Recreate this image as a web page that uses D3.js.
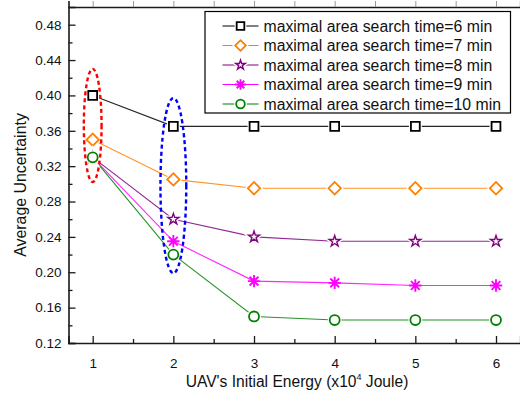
<!DOCTYPE html>
<html>
<head>
<meta charset="utf-8">
<script src="https://cdn.jsdelivr.net/npm/d3@7"></script>
<style>
  html, body { margin: 0; padding: 0; background: #fff; }
  svg { display: block; font-family: "Liberation Sans", Arial, sans-serif; }
</style>
</head>
<body>
<svg id="chart" width="520" height="398"></svg>
<script>
// Initial energy levels (x10^4 Joule)
const energy = [1, 2, 3, 4, 5, 6];

// Average uncertainty per maximal area search time
const time6  = [0.400, 0.365, 0.365, 0.365, 0.365, 0.365];
const time7  = [0.350, 0.305, 0.295, 0.295, 0.295, 0.295];
const time8  = [0.330, 0.260, 0.240, 0.235, 0.235, 0.235];
const time9  = [0.330, 0.235, 0.190, 0.188, 0.185, 0.185];
const time10 = [0.330, 0.220, 0.150, 0.146, 0.146, 0.146];

const seriesNames = [
  "maximal area search time=6 min",
  "maximal area search time=7 min",
  "maximal area search time=8 min",
  "maximal area search time=9 min",
  "maximal area search time=10 min"
];

const xTicks = [1, 2, 3, 4, 5, 6];
const yTicks = [0.12, 0.16, 0.20, 0.24, 0.28, 0.32, 0.36, 0.40, 0.44, 0.48];

// Highlight ellipses: [centre energy, centre uncertainty, half-width (energy), half-height (uncertainty)]
const redRing  = [1.0, 0.366, 0.11, 0.064];
const blueRing = [2.0, 0.298, 0.16, 0.099];

const styles = [
  { color: "#000000", marker: "square" },
  { color: "#ff8000", marker: "diamond" },
  { color: "#800080", marker: "star" },
  { color: "#ff00ff", marker: "asterisk" },
  { color: "#008000", marker: "circle" }
];
const allValues = [time6, time7, time8, time9, time10];
const series = allValues.map((vals, i) => ({
  name: seriesNames[i], ...styles[i],
  points: energy.map((e, j) => ({ x: e, y: vals[j] }))
}));

const svg = d3.select("#chart");
const x = d3.scaleLinear().domain([0.7, 6.3]).range([68.5, 520.2]);
const y = d3.scaleLinear().domain([0.12, 0.50]).range([343, 7]);

const axisColor = "#1a1a1a";

// Marker shapes
function markerPath(type, scale = 1) {
  switch (type) {
    case "square":  return d3.symbol(d3.symbolSquare, 78 * scale)();
    case "diamond": return d3.symbol(d3.symbolSquare, 76 * scale)();
    case "star":    return d3.symbol(d3.symbolStar, 38 * scale)();
    case "circle":  return d3.symbol(d3.symbolCircle, 78 * scale)();
    case "asterisk": {
      const r = 6.2 * Math.sqrt(scale), d = r * Math.SQRT1_2;
      return `M0,${-r}V${r}M${-r},0H${r}M${-d},${-d}L${d},${d}M${-d},${d}L${d},${-d}`;
    }
  }
}
function drawMarker(g, s, cx, cy, scale = 1) {
  const rot = s.marker === "diamond" ? 45 : 0;
  const p = markerPath(s.marker, scale);
  if (s.marker !== "asterisk") {
    g.append("path").attr("d", p)
      .attr("transform", `translate(${cx},${cy}) rotate(${rot})`)
      .attr("fill", "#fff").attr("stroke", "#fff").attr("stroke-width", 4);
  }
  const sw = s.marker === "asterisk" ? 1.9 : s.marker === "star" ? 1.4 : 1.8;
  g.append("path").attr("d", p)
    .attr("transform", `translate(${cx},${cy}) rotate(${rot})`)
    .attr("fill", s.marker === "asterisk" ? "none" : "#fff")
    .attr("stroke", s.color)
    .attr("stroke-width", sw)
    .attr("stroke-linejoin", "miter");
}

// Axes (ticks point inward)
const halfSteps = d3.range(2, 13).map(i => 0.5 * i);
const minorX = halfSteps.filter(v => !xTicks.includes(v));
const minorY = d3.range(7, 25).map(i => +(i * 0.02).toFixed(2)).filter(v => !yTicks.some(t => Math.abs(t - v) < 1e-9));

const xAxis = svg.append("g").attr("transform", `translate(0,${y(0.12)})`)
  .call(d3.axisBottom(x).tickValues(xTicks).tickSize(-7).tickPadding(15).tickFormat(d3.format("d")));
svg.append("g").attr("transform", `translate(0,${y(0.12)})`)
  .call(d3.axisBottom(x).tickValues(minorX).tickSize(-4).tickFormat(""))
  .select(".domain").remove();

const yAxis = svg.append("g").attr("transform", `translate(${x(0.7)},0)`)
  .call(d3.axisLeft(y).tickValues(yTicks).tickSize(-7).tickPadding(7).tickFormat(d3.format(".2f")));
svg.append("g").attr("transform", `translate(${x(0.7)},0)`)
  .call(d3.axisLeft(y).tickValues(minorY).tickSize(-4).tickFormat(""))
  .select(".domain").remove();

// Top frame with small outward ticks
const topAxis = svg.append("g").attr("transform", `translate(0,${y(0.50)})`)
  .call(d3.axisTop(x).tickValues(halfSteps).tickSize(6).tickFormat(""));

svg.selectAll(".domain").attr("stroke", axisColor).attr("stroke-width", 1.6);
svg.selectAll(".tick line").attr("stroke", axisColor).attr("stroke-width", 1.3);
topAxis.selectAll(".tick line").attr("stroke", "#999").attr("stroke-width", 1);
svg.selectAll(".tick text").attr("fill", "#111").attr("font-size", "13.5px")
  .attr("font-family", "Liberation Sans, Arial, sans-serif");
xAxis.selectAll(".tick text").attr("dy", "0.71em");

// Axis titles
svg.append("text")
  .attr("x", 297).attr("y", 387)
  .attr("text-anchor", "middle").attr("font-size", "15.6px").attr("fill", "#111")
  .call(t => {
    t.append("tspan").text("UAV's Initial Energy (x10");
    t.append("tspan").attr("font-size", "9px").attr("dy", "-7").text("4");
    t.append("tspan").attr("dy", "7").text(" Joule)");
  });
svg.append("text")
  .attr("transform", `translate(26,${185}) rotate(-90)`)
  .attr("text-anchor", "middle").attr("font-size", "15.9px").attr("fill", "#111")
  .text("Average Uncertainty");

// Series lines
const line = d3.line().x(d => x(d.x)).y(d => y(d.y));
const plot = svg.append("g");
series.forEach(s => {
  plot.append("path").datum(s.points)
    .attr("d", line).attr("fill", "none")
    .attr("stroke", s.color).attr("stroke-width", 1.1).attr("stroke-opacity", 0.85);
});
series.forEach(s => {
  const g = plot.append("g");
  s.points.forEach(p => drawMarker(g, s, x(p.x), y(p.y)));
});

// Highlight ellipses
function ring(spec, color, dash) {
  const [cx, cy, rx, ry] = spec;
  svg.append("ellipse")
    .attr("cx", x(cx)).attr("cy", y(cy))
    .attr("rx", x(cx + rx) - x(cx)).attr("ry", y(cy - ry) - y(cy))
    .attr("fill", "none").attr("stroke", color)
    .attr("stroke-width", 2.4).attr("stroke-dasharray", dash);
}
ring(redRing, "#ff0000", "4,3");
ring(blueRing, "#0000ff", "4,3");

// Legend
const legend = svg.append("g");
legend.append("rect")
  .attr("x", 205).attr("y", 11.5).attr("width", 305.5).attr("height", 101.5)
  .attr("fill", "#fff").attr("stroke", "#000").attr("stroke-width", 1.2);
series.forEach((s, i) => {
  const cy = 26 + i * 19.5;
  const g = legend.append("g");
  g.append("line").attr("x1", 222.5).attr("x2", 258.5).attr("y1", cy).attr("y2", cy)
    .attr("stroke", s.color).attr("stroke-width", 1.1);
  drawMarker(g, s, 240.5, cy, 0.75);
  g.append("text").attr("x", 263.5).attr("y", cy).attr("dy", "0.36em")
    .attr("font-size", "15.8px").attr("fill", "#111").text(s.name);
});
</script>
</body>
</html>
